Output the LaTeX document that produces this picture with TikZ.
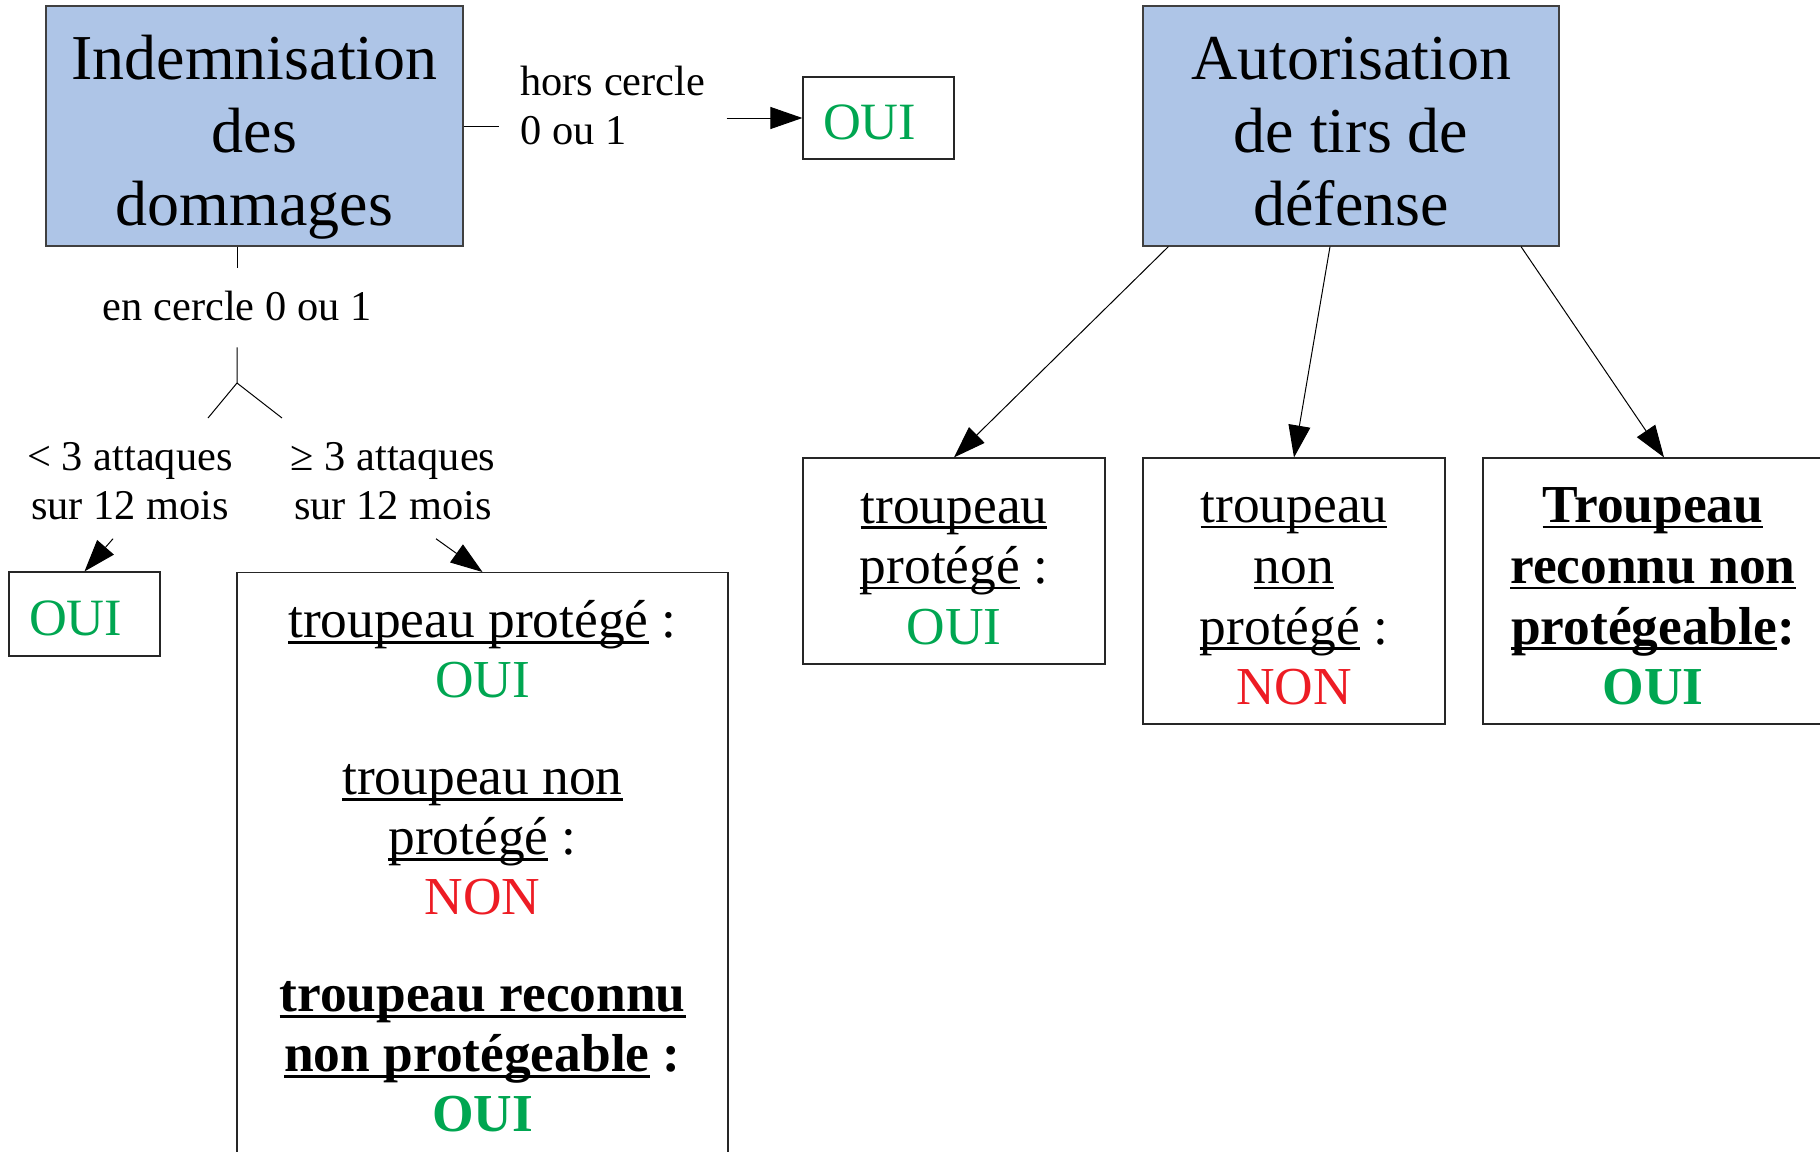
\documentclass[tikz,border=0pt]{standalone}
\usepackage{fontspec}
\setmainfont{Liberation Serif}
\usepackage{tikz}
\usetikzlibrary{positioning}
\usetikzlibrary{calc}
\usetikzlibrary{arrows.meta}
\definecolor{vert}{RGB}{0,166,81}
\definecolor{rouge}{RGB}{237,28,36}
\definecolor{bleu}{RGB}{174,197,231}
\newsavebox\soulbox
\newcommand\souligne[1]{\sbox\soulbox{#1}\rlap{\usebox\soulbox}\rule[-2.8pt]{\wd\soulbox}{1.2pt}}
\newcommand\haut{\rule{0pt}{23pt}}

\begin{document}
\begin{tikzpicture}[x=0.5pt,y=-0.5pt,
  titre/.style={draw=black!75,fill=bleu,line width=0.6pt,inner sep=0pt},
  titretxt/.style={anchor=north,align=center,inner sep=0pt,font=\fontsize{32}{36.5}\selectfont},
  boite/.style={draw=black!85,line width=0.6pt,align=center,font=\fontsize{26.7}{30}\selectfont},
  ouibox/.style={draw=black!85,line width=0.6pt,inner xsep=10pt,text width=55.5pt,align=left,
    text height=21.5pt,text depth=0pt,text=vert,font=\fontsize{26.2}{30}\selectfont},
  lbl/.style={align=center,inner sep=9pt,font=\fontsize{21.2}{24.6}\selectfont},
  arr/.style={line width=0.5pt,-{Triangle[length=16pt,width=11pt]}}]
  \useasboundingbox (0,0) rectangle (1820,1151);
  \clip (0,0) rectangle (1820,1151);

  % indemnisation
  \node[titre,minimum width=208.5pt,minimum height=120pt] (ind) at (254.5,126) {};
  \node[titretxt] (indtxt) at ([yshift=-14.4pt]ind.north) {Indemnisation\\des\\dommages};
  \node[lbl,anchor=west,align=left,inner xsep=10.5pt] (hors) at (499,105.5) {hors cercle\\0 ou 1};
  \node[ouibox,minimum height=41pt] (oui1) at (878.5,118) {OUI};
  \draw[line width=0.5pt] (ind.east) -- (hors.west |- ind.east);
  \draw[arr] (hors.east |- oui1.west) -- (oui1.west);

  \node[lbl,inner ysep=11.5pt,text height=14.5pt,text depth=2pt,anchor=base] (enc) at (237,320) {en cercle 0 ou 1};
  \coordinate (fork) at (237,383);
  \draw[line width=0.5pt] (enc.north |- ind.south) -- (enc.north);
  \draw[line width=0.5pt] (enc.south) -- (fork) -- ++(-29,35);
  \draw[line width=0.5pt] (fork) -- ++(45,35);

  \node[lbl] (lt) at (130,481.5) {< 3 attaques\\sur 12 mois};
  \node[lbl] (gt) at (393,481.5) {≥ 3 attaques\\sur 12 mois};
  \node[ouibox,minimum height=42pt] (oui2) at (84.5,614) {OUI};
  \node[boite,minimum width=245.5pt,minimum height=294pt,anchor=north] (gros) at (482.5,572)
    {\souligne{troupeau protégé} :\\\textcolor{vert}{OUI}\\[18.5pt]
     \souligne{troupeau non}\\\souligne{protégé} :\\\textcolor{rouge}{NON}\\[18.5pt]
     \textbf{\souligne{troupeau reconnu}}\\\textbf{\souligne{non protégeable} :}\\\textbf{\textcolor{vert}{OUI}}};
  \draw[arr] ([xshift=-8.5pt]lt.south) -- (oui2.north);
  \draw[arr] ([xshift=21.5pt]gt.south) -- (gros.north);

  % autorisation
  \node[titre,minimum width=208pt,minimum height=120pt] (aut) at (1351,126) {};
  \node[titretxt] (auttxt) at ([yshift=-15.9pt]aut.north) {Autorisation\\de tirs de\\défense};
  \node[boite,minimum width=151pt,minimum height=103pt,font=\fontsize{26.7}{30.3}\selectfont] (r1) at (954,561)
    {\haut\souligne{troupeau}\\\souligne{protégé} :\\\textcolor{vert}{OUI}};
  \node[boite,minimum width=151pt,minimum height=133pt,font=\fontsize{26.7}{30.3}\selectfont] (r2) at (1294,591)
    {\haut\souligne{troupeau}\\\souligne{non}\\\souligne{protégé} :\\\textcolor{rouge}{NON}};
  \node[boite,minimum width=170pt,minimum height=133pt,font=\fontsize{26.7}{30.3}\selectfont\bfseries] (r3) at (1653,591)
    {\haut\souligne{Troupeau}\\\souligne{reconnu non}\\\souligne{protégeable}:\\\textcolor{vert}{OUI}};
  \draw[arr] ([xshift=13pt]aut.south west) -- (r1.north);
  \draw[arr] ([xshift=-10.5pt]aut.south) -- (r2.north);
  \draw[arr] ([xshift=85pt]aut.south) -- ([xshift=5.5pt]r3.north);
\end{tikzpicture}
\end{document}
